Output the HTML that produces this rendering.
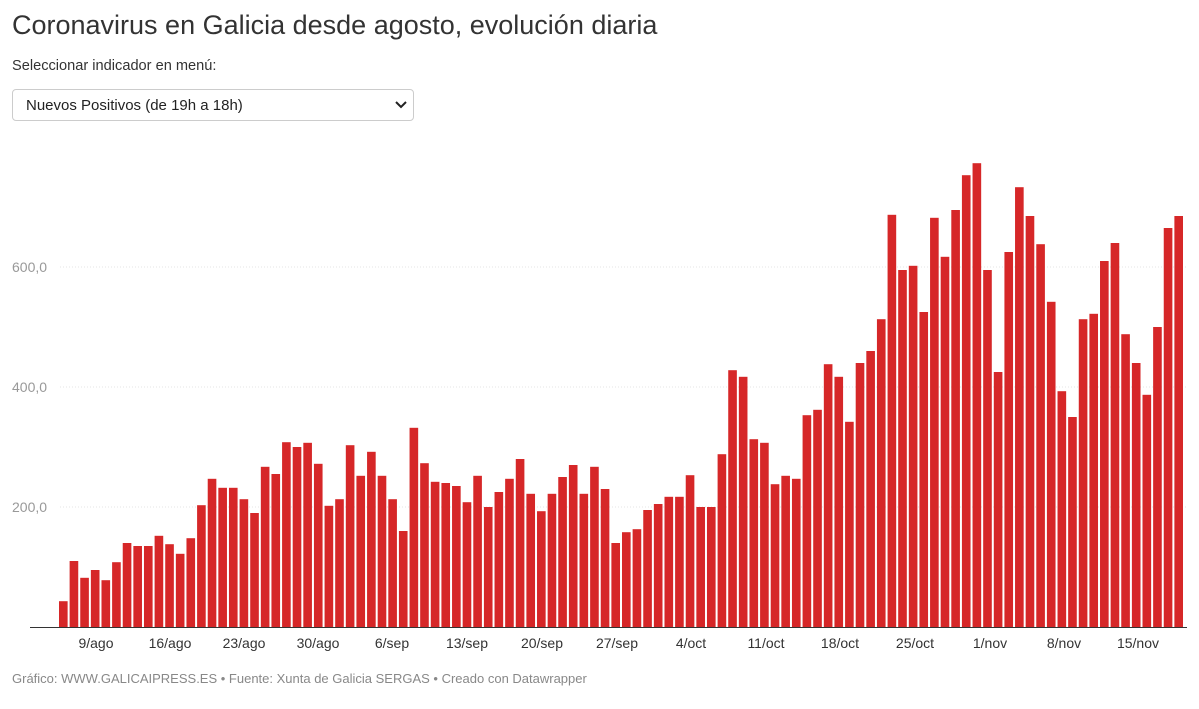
<!DOCTYPE html>
<html><head><meta charset="utf-8">
<style>
body{margin:0;background:#fff;font-family:"Liberation Sans",Arial,sans-serif;width:1199px;height:709px;overflow:hidden;position:relative}
h1{position:absolute;left:12px;top:10px;margin:0;font-size:27px;font-weight:normal;color:#333}
.lab{position:absolute;left:12px;top:58px;font-size:14.6px;color:#333}
.sel{position:absolute;left:12px;top:89px;width:402px;height:32px;border:1px solid #ccc;border-radius:4px;box-sizing:border-box;font-size:15px;color:#222;padding:7px 0 0 13px}
.sel svg{position:absolute;right:6px;top:10px}
.foot{position:absolute;left:12px;top:671px;font-size:13px;color:#888}
svg.c{position:absolute;left:0;top:0}
</style></head><body>
<h1>Coronavirus en Galicia desde agosto, evolución diaria</h1>
<div class="lab">Seleccionar indicador en menú:</div>
<div class="sel">Nuevos Positivos (de 19h a 18h)<svg width="12" height="10"><path d="M1 2 L6 7 L11 2" stroke="#222" stroke-width="2" fill="none"/></svg></div>
<svg class="c" id="c" width="1199" height="709"></svg>
<div class="foot">Gráfico: WWW.GALICAIPRESS.ES • Fuente: Xunta de Galicia SERGAS • Creado con Datawrapper</div>
<script>
var v=[43,110,82,95,78,108,140,135,135,152,138,122,148,203,247,232,232,213,190,267,255,308,300,307,272,202,213,303,252,292,252,213,160,332,273,242,240,235,208,252,200,225,247,280,222,193,222,250,270,222,267,230,140,158,163,195,205,217,217,253,200,200,288,428,417,313,307,238,252,247,353,362,438,417,342,440,460,513,687,595,602,525,682,617,695,753,773,595,425,625,733,685,638,542,393,350,513,522,610,640,488,440,387,500,665,685];
var s='';
[[200,507],[400,387],[600,267]].forEach(function(g){s+='<line x1="60" x2="1187" y1="'+g[1]+'" y2="'+g[1]+'" stroke="#e5e5e5" stroke-dasharray="1,2"/><text x="12" y="'+(g[1]+5)+'" font-size="14" fill="#999" font-family="Liberation Sans">'+g[0]+',0</text>';});
var p=1126/v.length;
v.forEach(function(d,i){var h=d*0.6;s+='<rect x="'+(59+i*p).toFixed(2)+'" y="'+(627-h).toFixed(1)+'" width="'+(p-2).toFixed(2)+'" height="'+h.toFixed(1)+'" fill="#d62728"/>';});
s+='<line x1="30" x2="1187" y1="627.5" y2="627.5" stroke="#333"/>';
var L=[["9/ago",96],["16/ago",170],["23/ago",244],["30/ago",318],["6/sep",392],["13/sep",467],["20/sep",542],["27/sep",617],["4/oct",691],["11/oct",766],["18/oct",840],["25/oct",915],["1/nov",990],["8/nov",1064],["15/nov",1138]];
L.forEach(function(l){s+='<text x="'+l[1]+'" y="648" text-anchor="middle" font-size="14" fill="#333" font-family="Liberation Sans">'+l[0]+'</text>';});
document.getElementById('c').innerHTML=s;
</script>
</body></html>
